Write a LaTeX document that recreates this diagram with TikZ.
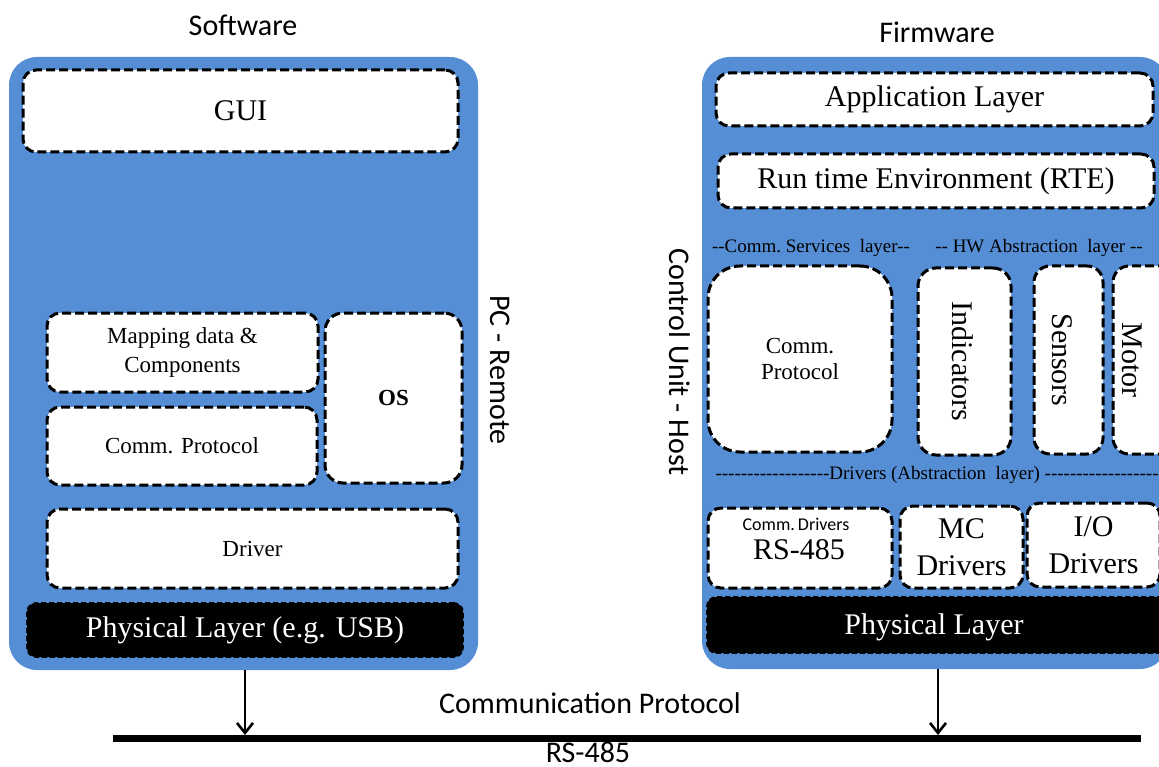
\documentclass[tikz,border=0pt]{standalone}
\usepackage{fontspec}
\newfontfamily\tnr{Liberation Serif}
\newfontfamily\clb{Carlito}
\usetikzlibrary{arrows.meta}
\definecolor{myblue}{RGB}{85,142,213}
\newcommand\hy{-\kern0pt}
\newcommand\hys[1]{\foreach\k in {1,...,#1}{-\kern0pt}}
\tikzset{
  bluebox/.style={fill=myblue, rounded corners=28pt, inner sep=0pt},
  lay/.style={draw=black, line width=3pt, dash pattern=on 9pt off 4pt, fill=white,
              rounded corners=13pt, inner sep=0pt, align=center},
  phys/.style={draw=black, fill=black, line width=1.6pt, dash pattern=on 5pt off 3pt,
               rounded corners=9pt, inner sep=0pt, text=white},
  big/.style={font=\tnr\fontsize{30}{37}\selectfont},
  mid/.style={font=\tnr\fontsize{23}{29}\selectfont},
  small/.style={font=\tnr\fontsize{19}{22}\selectfont},
  sans/.style={font=\clb\fontsize{30}{34}\selectfont},
  arr/.style={line width=2.6pt, -{Straight Barb[length=10pt,width=16pt,line width=2.6pt]}},
}
\begin{document}
\begin{tikzpicture}[x=1pt,y=-1pt]
\useasboundingbox (0,0) rectangle (1159,767);
\clip (0,0) rectangle (1159,767);

% headers
\node[sans] (sw) at (243,25) {Software};
\node[sans] (fw) at (937,32) {Firmware};

% blue containers
\node[bluebox, minimum width=469, minimum height=613] (pc) at (243.5,363.5) {};
\node[bluebox, minimum width=466, minimum height=612] (cu) at (935,363) {};

% ---------- left: PC - Remote ----------
\node[lay, big, minimum width=435, minimum height=82] (gui) at (240.5,111) {GUI};
\node[lay, mid, minimum width=271, minimum height=79] (map) at (182.5,352.5) {Mapping data \&\\Components};
\node[lay, mid, minimum width=270, minimum height=78] (cpl) at (182,446) {Comm. Protocol};
\node[lay, mid, minimum width=137, minimum height=170, rounded corners=18pt] (os) at (393.5,398) {\bfseries OS};
\node[lay, mid, minimum width=411, minimum height=79] (drv) at (252.5,548.5) {Driver};
\node[phys, big, minimum width=436, minimum height=54] (phl) at (245,630) {Physical Layer (e.g. USB)};
\node[sans, rotate=-90] (pcr) at (500,370) {PC - Remote};

% ---------- right: Control Unit - Host ----------
\node[lay, big, minimum width=437, minimum height=53] (app) at (934.5,99.5) {Application Layer};
\node[lay, big, minimum width=436, minimum height=54] (rte) at (936,181) {Run time Environment (RTE)};
\node[small] (csl) at (811,248) {\hy\hy Comm.\ Services\ \ layer\hy\hy};
\node[small] (hwl) at (1039,248) {\hy\hy\ HW Abstraction\ \ layer\ \hy\hy};
\node[lay, mid, minimum width=184, minimum height=186, rounded corners=32pt] (cpr) at (800,359) {Comm.\\[-3pt]Protocol};
\node[lay, minimum width=93, minimum height=187, rounded corners=18pt] (ind) at (964.5,361.5) {};
\node[big, rotate=-90] (indl) at ([xshift=-2pt]ind.center) {Indicators};
\node[lay, minimum width=69, minimum height=188, rounded corners=16pt] (sen) at (1068.5,360) {};
\node[big, rotate=-90] (senl) at ([xshift=-6pt]sen.center) {Sensors};
\node[lay, minimum width=70, minimum height=188, rounded corners=16pt] (mot) at (1148,360) {};
\node[big, rotate=-90] (motl) at (1132,360) {Motor};
\node[small, anchor=west] (dal) at (712,475) {\hys{18}Drivers (Abstraction\ \ layer) \hys{18}};
\node[lay, minimum width=184, minimum height=80] (cdr) at (800,548) {};
\node[font=\clb\fontsize{18}{20}\selectfont] (cdrl1) at (796,524) {Comm.\,Drivers};
\node[big] (cdrl2) at (799,550) {RS-485};
\node[lay, big, minimum width=123, minimum height=82] (mcd) at (961.5,547) {MC\\Drivers};
\node[lay, big, minimum width=133, minimum height=84] (iod) at (1093.5,545) {I/O\\Drivers};
\node[phys, minimum width=480, minimum height=56] (phr) at (947,625) {};
\node[big, text=white] (phrl) at (934,627) {Physical Layer};
\node[sans, rotate=-90] (cuh) at (680,362) {Control Unit - Host};

% ---------- bus ----------
\coordinate (busL) at (113,738.5);
\coordinate (busR) at (1141,738.5);
\draw[line width=7pt] (busL) -- (busR);
\coordinate (tipL) at (245,735);
\coordinate (tipR) at (938,735);
\draw[arr] (pc.south -| tipL) -- (tipL);
\draw[arr] (cu.south -| tipR) -- (tipR);
\node[sans] (cpt) at (590,703) {Communication Protocol};
\node[sans, inner sep=0pt] (rs) at (588,752) {RS-485};
\end{tikzpicture}
\end{document}
